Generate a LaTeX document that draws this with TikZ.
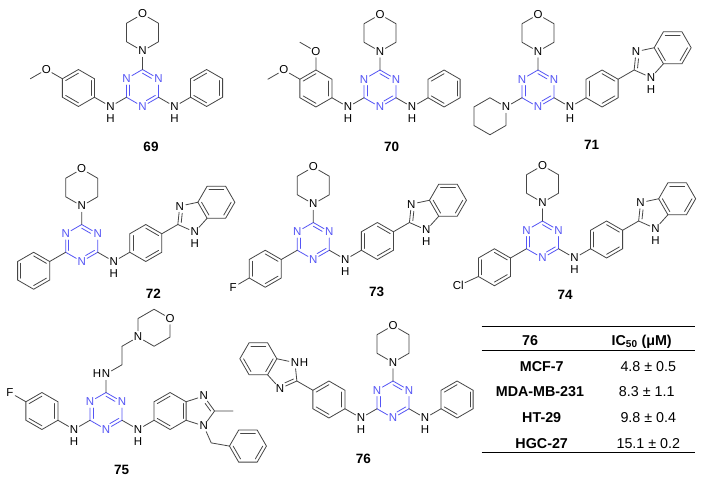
\documentclass[tikz,border=0pt]{standalone}
\usepackage{fontspec}
\setmainfont{Liberation Sans}
\usetikzlibrary{calc}
\definecolor{bondc}{RGB}{70,70,70}
\definecolor{trz}{RGB}{85,85,245}
\def\BL{18.5}
\def\BR{15.74}
\def\BA{28.75}
\newcommand\afont{\fontsize{11.5}{13}\selectfont}
\tikzset{
 bond/.style={draw=bondc, line width=0.8pt, line cap=round},
 tbond/.style={draw=trz, line width=0.8pt, line cap=round},
 atom/.style={circle, inner sep=0pt, minimum size=12pt, font=\afont, text=black},
 tatom/.style={atom, text=trz},
 hatom/.style={inner sep=0pt, font=\afont},
 cpdlabel/.style={font=\fontsize{13.5}{15}\selectfont\bfseries},
 tabtext/.style={anchor=base, font=\fontsize{14.3}{16}\selectfont},
 tabbold/.style={anchor=base, font=\fontsize{14.3}{16}\selectfont\bfseries},
 tabrule/.style={draw=black, line width=1.2pt},
}
% triazine: prefix, centre
\newcommand\triazine[2]{%
 \coordinate (#1c) at (#2);
 \foreach \k/\ang in {0/-90,1/-30,2/30,3/90,4/150,5/210}{\coordinate (#1t\k) at ($(#1c)+(\ang:\BL)$);}
 \foreach \k in {1,3,5}{\node[tatom] (#1n\k) at (#1t\k) {N};}
 \draw[tbond] (#1t0)--(#1n1) (#1n1)--(#1t2) (#1t2)--(#1n3) (#1n3)--(#1t4) (#1t4)--(#1n5) (#1n5)--(#1t0);
 \draw[tbond, shorten >=4.5pt] ($(#1t0)!0.2!(#1c)$) -- ($(#1t1)!0.2!(#1c)$);
 \draw[tbond, shorten >=4.5pt] ($(#1t2)!0.2!(#1c)$) -- ($(#1t3)!0.2!(#1c)$);
 \draw[tbond, shorten >=4.5pt] ($(#1t4)!0.2!(#1c)$) -- ($(#1t5)!0.2!(#1c)$);
}
% morpholine: prefix, from, direction
\newcommand\morph[3]{%
 \node[atom] (#1N) at ($(#2)+(#3:\BL)$) {N};
 \coordinate (#1c) at ($(#1N)+(#3:\BL)$);
 \foreach \k in {1,...,5}{\coordinate (#1v\k) at ($(#1c)+({#3+180+60*\k}:\BL)$);}
 \node[atom] (#1O) at (#1v3) {O};
 \draw[bond] (#2)--(#1N) (#1N)--(#1v1) (#1v1)--(#1v2) (#1v2)--(#1O) (#1O)--(#1v4) (#1v4)--(#1v5) (#1v5)--(#1N);
}
% piperidine
\newcommand\pip[3]{%
 \node[atom] (#1N) at ($(#2)+(#3:\BL)$) {N};
 \coordinate (#1c) at ($(#1N)+(#3:\BL)$);
 \foreach \k in {1,...,5}{\coordinate (#1v\k) at ($(#1c)+({#3+180+60*\k}:\BL)$);}
 \draw[bond] (#2)--(#1N) (#1N)--(#1v1) (#1v1)--(#1v2) (#1v2)--(#1v3) (#1v3)--(#1v4) (#1v4)--(#1v5) (#1v5)--(#1N);
}
% NH: name, from, direction
\newcommand\nh[3]{%
 \node[atom] (#1) at ($(#2)+(#3:\BL)$) {N};
 \node[hatom] (#1H) at ($(#1)+(0,11.8)$) {H};
 \draw[bond] (#2)--(#1);
}
% benzene ring from ipso coordinate
\newcommand\phenat[4]{%
 \coordinate (#1c) at ($(#2)+(#3:\BL)$);
 \foreach \k in {0,...,5}{\coordinate (#1v\k) at ($(#1c)+({#3+180+60*\k}:\BL)$);}
 \draw[bond] (#1v0)--(#1v1)--(#1v2)--(#1v3)--(#1v4)--(#1v5)--cycle;
 \foreach \k in {#4}{\pgfmathtruncatemacro\kk{mod(\k+1,6)}\draw[bond] ($(#1v\k)!0.2!(#1c)$) -- ($(#1v\kk)!0.2!(#1c)$);}
}
\newcommand\phen[4]{%
 \coordinate (#1i) at ($(#2)+(#3:\BL)$);
 \draw[bond] (#2)--(#1i);
 \phenat{#1}{#1i}{#3}{#4}
}
% benzimidazol-2-yl: prefix, from, axis, H offset
\newcommand\bzim[4]{%
 \coordinate (#1C) at ($(#2)+(#3:\BL)$);
 \draw[bond] (#2)--(#1C);
 \coordinate (#1P) at ($(#1C)+(#3:\BR)$);
 \node[atom] (#1N3) at ($(#1P)+({#3+252}:\BR)$) {N};
 \coordinate (#1a) at ($(#1P)+({#3+324}:\BR)$);
 \coordinate (#1b) at ($(#1P)+({#3+36}:\BR)$);
 \node[atom] (#1N1) at ($(#1P)+({#3+108}:\BR)$) {N};
 \node[hatom] (#1H) at ($(#1N1)+#4$) {H};
 \coordinate (#1B) at ($(#1P)+(#3:\BA)$);
 \foreach \k in {1,...,4}{\coordinate (#1b\k) at ($(#1B)+({#3+210+60*\k}:\BL)$);}
 \draw[bond] (#1C)--(#1N3) (#1N3)--(#1a) (#1a)--(#1b) (#1b)--(#1N1) (#1N1)--(#1C);
 \draw[bond] (#1a)--(#1b1)--(#1b2)--(#1b3)--(#1b4)--(#1b);
 \draw[bond, shorten >=4.5pt] ($(#1C)!0.25!(#1P)$) -- ($(#1N3)!0.25!(#1P)$);
 \draw[bond] ($(#1b1)!0.2!(#1B)$) -- ($(#1b2)!0.2!(#1B)$);
 \draw[bond] ($(#1b3)!0.2!(#1B)$) -- ($(#1b4)!0.2!(#1B)$);
 \draw[bond] ($(#1b)!0.2!(#1B)$) -- ($(#1a)!0.2!(#1B)$);
}
\begin{document}
\begin{tikzpicture}[x=1pt,y=-1pt]
\fill[white] (0,0) rectangle (706,480);
\useasboundingbox (0,0) rectangle (706,480);

% ---------- 69 ----------
\triazine{a}{142.5,88}
\morph{am}{at0}{-90}
\nh{anr}{at2}{30}
\phen{ap}{anr}{-30}{1,3,5}
\nh{anl}{at4}{150}
\phen{aq}{anl}{210}{1,3,5}
\node[atom] (aO) at ($(aqv3)+(210:\BL)$) {O};
\coordinate (aMe) at ($(aO)+(150:\BL)$);
\draw[bond] (aqv3)--(aO) (aO)--(aMe);
\node[cpdlabel] (l69) at (151,146.7) {69};

% ---------- 70 ----------
\triazine{b}{380,88.5}
\morph{bm}{bt0}{-90}
\nh{bnr}{bt2}{30}
\phen{bp}{bnr}{-30}{1,3,5}
\nh{bnl}{bt4}{150}
\phen{bq}{bnl}{210}{1,3,5}
\node[atom] (bO1) at ($(bqv3)+(210:\BL)$) {O};
\coordinate (bMe1) at ($(bO1)+(150:\BL)$);
\node[atom] (bO2) at ($(bqv4)+(270:\BL)$) {O};
\coordinate (bMe2) at ($(bO2)+(210:\BL)$);
\draw[bond] (bqv3)--(bO1) (bO1)--(bMe1) (bqv4)--(bO2) (bO2)--(bMe2);
\node[cpdlabel] (l70) at (391.7,146.7) {70};

% ---------- 71 ----------
\triazine{c}{538,88.5}
\morph{cm}{ct0}{-90}
\pip{cr}{ct4}{150}
\nh{cnr}{ct2}{30}
\phen{cp}{cnr}{-30}{0,2,4}
\bzim{cz}{cpv3}{-30}{(0,11.8)}
\node[cpdlabel] (l71) at (591.7,145) {71};

% ---------- 72 ----------
\triazine{d}{81.7,243}
\morph{dm}{dt0}{-90}
\phen{dq}{dt4}{150}{1,3,5}
\nh{dnr}{dt2}{30}
\phen{dp}{dnr}{-30}{0,2,4}
\bzim{dz}{dpv3}{-30}{(0,11.8)}
\node[cpdlabel] (l72) at (153.3,294) {72};

% ---------- 73 ----------
\triazine{e}{313.3,241}
\morph{em}{et0}{-90}
\phen{eq}{et4}{150}{1,3,5}
\node[atom] (eF) at ($(eqv3)+(150:\BL)$) {F};
\draw[bond] (eqv3)--(eF);
\nh{enr}{et2}{30}
\phen{ep}{enr}{-30}{0,2,4}
\bzim{ez}{epv3}{-30}{(0,11.8)}
\node[cpdlabel] (l73) at (376.7,291.7) {73};

% ---------- 74 ----------
\triazine{f}{542.5,239.5}
\morph{fm}{ft0}{-90}
\phen{fq}{ft4}{150}{1,3,5}
\node[atom, rectangle, inner sep=1pt, minimum size=0pt, anchor=east] (fCl) at ($(fqv3)+(150:\BL)+(2.5,0)$) {Cl};
\draw[bond] (fqv3)--(fCl);
\nh{fnr}{ft2}{30}
\phen{fp}{fnr}{-30}{0,2,4}
\bzim{fz}{fpv3}{-30}{(0,11.8)}
\node[cpdlabel] (l74) at (565,295) {74};

% ---------- 75 ----------
\triazine{g}{106,411}
\node[atom] (gNH) at ($(gt0)+(-90:\BL)$) {N};
\node[hatom] (gNHH) at ($(gNH)+(-9,0)$) {H};
\coordinate (gc1) at ($(gNH)+(-30:\BL)$);
\coordinate (gc2) at ($(gc1)+(-90:\BL)$);
\draw[bond] (gt0)--(gNH) (gNH)--(gc1) (gc1)--(gc2);
\morph{gm}{gc2}{-30}
\nh{gnl}{gt4}{150}
\phen{gq}{gnl}{210}{1,3,5}
\node[atom] (gF) at ($(gqv3)+(210:\BL)$) {F};
\draw[bond] (gqv3)--(gF);
\nh{gnr}{gt2}{30}
\phen{gb}{gnr}{-30}{1,3,5}
\coordinate (gP) at ($(gbc)+(0:\BA)$);
\node[atom] (gN3) at ($(gP)+(288:\BR)$) {N};
\coordinate (gC2) at ($(gP)+(0:\BR)$);
\node[atom] (gN1) at ($(gP)+(72:\BR)$) {N};
\coordinate (gMe) at ($(gC2)+(0:\BL)$);
\coordinate (gCH) at ($(gN1)+(66:\BL)$);
\coordinate (gKi) at ($(gCH)+(10:\BL)$);
\phenat{gk}{gKi}{0}{1,3,5}
\draw[bond] (gbv3)--(gN3) (gN3)--(gC2) (gC2)--(gN1) (gN1)--(gbv4) (gC2)--(gMe) (gN1)--(gCH) (gCH)--(gKi);
\draw[bond, shorten <=4.5pt] ($(gN3)!0.25!(gP)$) -- ($(gC2)!0.25!(gP)$);
\node[cpdlabel] (l75) at (121.7,470) {75};

% ---------- 76 ----------
\triazine{h}{393,399.5}
\morph{hm}{ht0}{-90}
\nh{hnr}{ht2}{30}
\phen{hp}{hnr}{-30}{1,3,5}
\nh{hnl}{ht4}{150}
\phen{hq}{hnl}{210}{1,3,5}
\bzim{hz}{hqv3}{210}{(9,0)}
\node[cpdlabel] (l76) at (363.3,459.3) {76};

% ---------- table ----------
\coordinate (r1a) at (481.7,326.7); \coordinate (r1b) at (695,326.7);
\coordinate (r2a) at (481.7,350.7); \coordinate (r2b) at (695,350.7);
\coordinate (r3a) at (481.7,452.7); \coordinate (r3b) at (695,452.7);
\draw[tabrule] (r1a) -- (r1b);
\draw[tabrule, line width=0.9pt] (r2a) -- (r2b);
\draw[tabrule] (r3a) -- (r3b);
\node[tabbold] (th1) at (530,345.8) {76};
\node[tabbold] (th2) at (641.7,345.8) {IC\textsubscript{50} (μM)};
\node[tabbold] (n1) at (541.7,371.8) {MCF-7};
\node[tabtext] (v1) at (648.3,371.8) {4.8 ± 0.5};
\node[tabbold] (n2) at (540,396.8) {MDA-MB-231};
\node[tabtext] (v2) at (646.7,396.8) {8.3 ± 1.1};
\node[tabbold] (n3) at (541.7,422.4) {HT-29};
\node[tabtext] (v3) at (648.3,422.4) {9.8 ± 0.4};
\node[tabbold] (n4) at (541.7,448.4) {HGC-27};
\node[tabtext] (v4) at (648.3,448.4) {15.1 ± 0.2};
\end{tikzpicture}
\end{document}
